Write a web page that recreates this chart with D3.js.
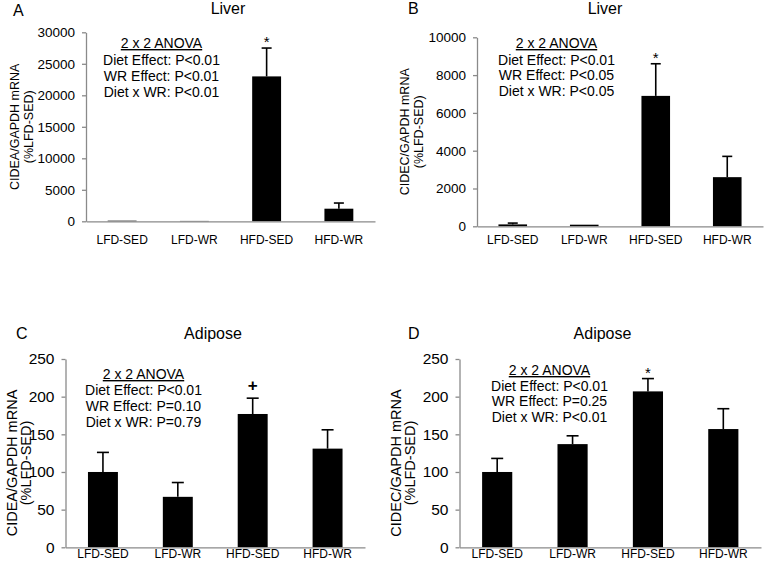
<!DOCTYPE html>
<html>
<head>
<meta charset="utf-8">
<script src="https://cdn.jsdelivr.net/npm/d3@7"></script>
<style>
  html, body { margin: 0; padding: 0; background: #fff; }
  svg text { font-family: "Liberation Sans", Arial, sans-serif; fill: #000; }
</style>
</head>
<body>
<svg id="chart" width="765" height="566"></svg>
<script>
// ---------- data ----------
const categories = ["LFD-SED", "LFD-WR", "HFD-SED", "HFD-WR"];

const cideaLiverMean = [100, 60, 23000, 2000];
const cideaLiverSem  = [30, 20, 4500, 900];

const cidecLiverMean = [100, 85, 6900, 2600];
const cidecLiverSem  = [70, 10, 1700, 1100];

const cideaAdiposeMean = [100, 67, 177, 131];
const cideaAdiposeSem  = [26, 19, 21, 25];

const cidecAdiposeMean = [100, 137, 207, 157];
const cidecAdiposeSem  = [18, 11, 17, 27];

const ticksA = [0, 5000, 10000, 15000, 20000, 25000, 30000];
const ticksB = [0, 2000, 4000, 6000, 8000, 10000];
const ticksC = [0, 50, 100, 150, 200, 250];
const ticksD = [0, 50, 100, 150, 200, 250];

const markersA = ["", "", "*", ""];
const markersB = ["", "", "*", ""];
const markersC = ["", "", "+", ""];
const markersD = ["", "", "*", ""];

const statsA = ["Diet Effect: P<0.01", "WR Effect: P<0.01", "Diet x WR: P<0.01"];
const statsB = ["Diet Effect: P<0.01", "WR Effect: P<0.05", "Diet x WR: P<0.05"];
const statsC = ["Diet Effect: P<0.01", "WR Effect: P=0.10", "Diet x WR: P=0.79"];
const statsD = ["Diet Effect: P<0.01", "WR Effect: P=0.25", "Diet x WR: P<0.01"];

const anovaTitle = "2 x 2 ANOVA";

// ---------- layout ----------
const panels = [
  { letter: "A", title: "Liver", ylab: "CIDEA/GAPDH mRNA", mean: cideaLiverMean, sem: cideaLiverSem,
    ticks: ticksA, markers: markersA, stats: statsA,
    left: 86, right: 375, yTopPx: 32.3, y0: 221.3, tickFont: 13.5, ylabFont: 12.5,
    ylab1: 18.5, ylab2: 32.5, ylabY: null,
    letterX: 13, letterY: 16, titleX: 228, titleY: 14, xlabY: 244,
    annX: 161.5, annY: [48, 65, 80.5, 96.5], capW: 10 },
  { letter: "B", title: "Liver", ylab: "CIDEC/GAPDH mRNA", mean: cidecLiverMean, sem: cidecLiverSem,
    ticks: ticksB, markers: markersB, stats: statsB,
    left: 477, right: 763, yTopPx: 37.3, y0: 226.3, tickFont: 13.5, ylabFont: 12.5,
    ylab1: 409, ylab2: 423, ylabY: null,
    letterX: 408, letterY: 14, titleX: 605, titleY: 14, xlabY: 244,
    annX: 556.5, annY: [48, 64.5, 80, 95.5], capW: 10 },
  { letter: "C", title: "Adipose", ylab: "CIDEA/GAPDH mRNA", mean: cideaAdiposeMean, sem: cideaAdiposeSem,
    ticks: ticksC, markers: markersC, stats: statsC,
    left: 65.5, right: 365, yTopPx: 359, y0: 547.3, tickFont: 15.5, ylabFont: 14.5,
    ylab1: 16.5, ylab2: 30.5, ylabY: 463,
    letterX: 16, letterY: 339, titleX: 213, titleY: 339, xlabY: 557.5,
    annX: 143.5, annY: [379, 395, 411, 427], capW: 12 },
  { letter: "D", title: "Adipose", ylab: "CIDEC/GAPDH mRNA", mean: cidecAdiposeMean, sem: cidecAdiposeSem,
    ticks: ticksD, markers: markersD, stats: statsD,
    left: 459.5, right: 761, yTopPx: 359, y0: 547.3, tickFont: 15.5, ylabFont: 14.5,
    ylab1: 400.5, ylab2: 415, ylabY: 463,
    letterX: 408, letterY: 339, titleX: 602.5, titleY: 339, xlabY: 557.5,
    annX: 549.5, annY: [375, 391, 406, 421.5], capW: 12 }
];

const svg = d3.select("#chart");
const axisColor = "#8a8a8a";

panels.forEach(p => {
  const g = svg.append("g");
  const maxTick = d3.max(p.ticks);
  const y = d3.scaleLinear().domain([0, maxTick]).range([p.y0, p.yTopPx]);
  const x = d3.scaleBand().domain(categories).range([p.left, p.right])
              .paddingInner(0.6).paddingOuter(0.3);

  // y axis
  const yAxis = d3.axisLeft(y).tickValues(p.ticks).tickFormat(d3.format("d"))
                  .tickSize(4).tickSizeOuter(0).tickPadding(7);
  const yg = g.append("g").attr("transform", `translate(${p.left},0)`).call(yAxis);
  yg.select(".domain").attr("stroke", axisColor).attr("stroke-width", 1.3);
  yg.selectAll(".tick line").attr("stroke", axisColor).attr("stroke-width", 1.3);
  yg.selectAll(".tick text").attr("font-size", p.tickFont)
    .style("font-family", '"Liberation Sans", Arial, sans-serif').attr("fill", "#000");

  const rows = categories.map((c, i) => ({ c, m: p.mean[i], s: p.sem[i], mk: p.markers[i] }));

  // error bars (upper only); skipped when too small to be seen
  const eg = g.append("g");
  rows.forEach(r => {
    const cx = x(r.c) + x.bandwidth() / 2;
    if (y(0) - y(r.m + r.s) < 2) return;
    eg.append("line").attr("x1", cx).attr("x2", cx)
      .attr("y1", y(r.m)).attr("y2", y(r.m + r.s))
      .attr("stroke", "#000").attr("stroke-width", 1.6);
    eg.append("line").attr("x1", cx - p.capW / 2).attr("x2", cx + p.capW / 2)
      .attr("y1", y(r.m + r.s)).attr("y2", y(r.m + r.s))
      .attr("stroke", "#000").attr("stroke-width", 1.6);
  });

  // bars
  g.append("g").selectAll("rect").data(rows).join("rect")
    .attr("x", d => x(d.c))
    .attr("width", x.bandwidth())
    .attr("y", d => y(d.m))
    .attr("height", d => y(0) - y(d.m))
    .attr("fill", "#000");

  // x axis (drawn over bars so the baseline stays grey)
  const xAxis = d3.axisBottom(x).tickSize(0).tickSizeOuter(0).tickPadding(0);
  const xg = g.append("g").attr("transform", `translate(0,${p.y0})`).call(xAxis);
  xg.select(".domain").attr("stroke", axisColor).attr("stroke-width", 1.3);
  xg.selectAll(".tick text").attr("font-size", 12).attr("dy", null)
    .attr("y", p.xlabY - p.y0)
    .style("font-family", '"Liberation Sans", Arial, sans-serif').attr("fill", "#000");

  // significance markers
  g.append("g").selectAll("text").data(rows.filter(r => r.mk)).join("text")
    .attr("x", d => x(d.c) + x.bandwidth() / 2)
    .attr("y", d => y(d.m + d.s) - (d.mk === "+" ? 7 : 1))
    .attr("text-anchor", "middle")
    .attr("font-size", d => d.mk === "+" ? 17 : 15)
    .attr("font-weight", d => d.mk === "+" ? "bold" : "normal")
    .text(d => d.mk);

  // annotation block
  const lines = [anovaTitle].concat(p.stats);
  g.append("g").selectAll("text").data(lines).join("text")
    .attr("x", p.annX)
    .attr("y", (d, i) => p.annY[i])
    .attr("text-anchor", "middle")
    .attr("font-size", 14)
    .style("text-decoration", (d, i) => i === 0 ? "underline" : null)
    .text(d => d);

  // title and letter
  g.append("text").attr("x", p.titleX).attr("y", p.titleY)
    .attr("text-anchor", "middle").attr("font-size", 16).text(p.title);
  g.append("text").attr("x", p.letterX).attr("y", p.letterY)
    .attr("font-size", 16).text(p.letter);

  // y-axis title (two lines)
  const cy = p.ylabY !== null ? p.ylabY : (p.y0 + p.yTopPx) / 2;
  g.append("text").attr("transform", `translate(${p.ylab1},${cy}) rotate(-90)`)
    .attr("text-anchor", "middle").attr("font-size", p.ylabFont).text(p.ylab);
  g.append("text").attr("transform", `translate(${p.ylab2},${cy}) rotate(-90)`)
    .attr("text-anchor", "middle").attr("font-size", p.ylabFont).text("(%LFD-SED)");
});
</script>
</body>
</html>
